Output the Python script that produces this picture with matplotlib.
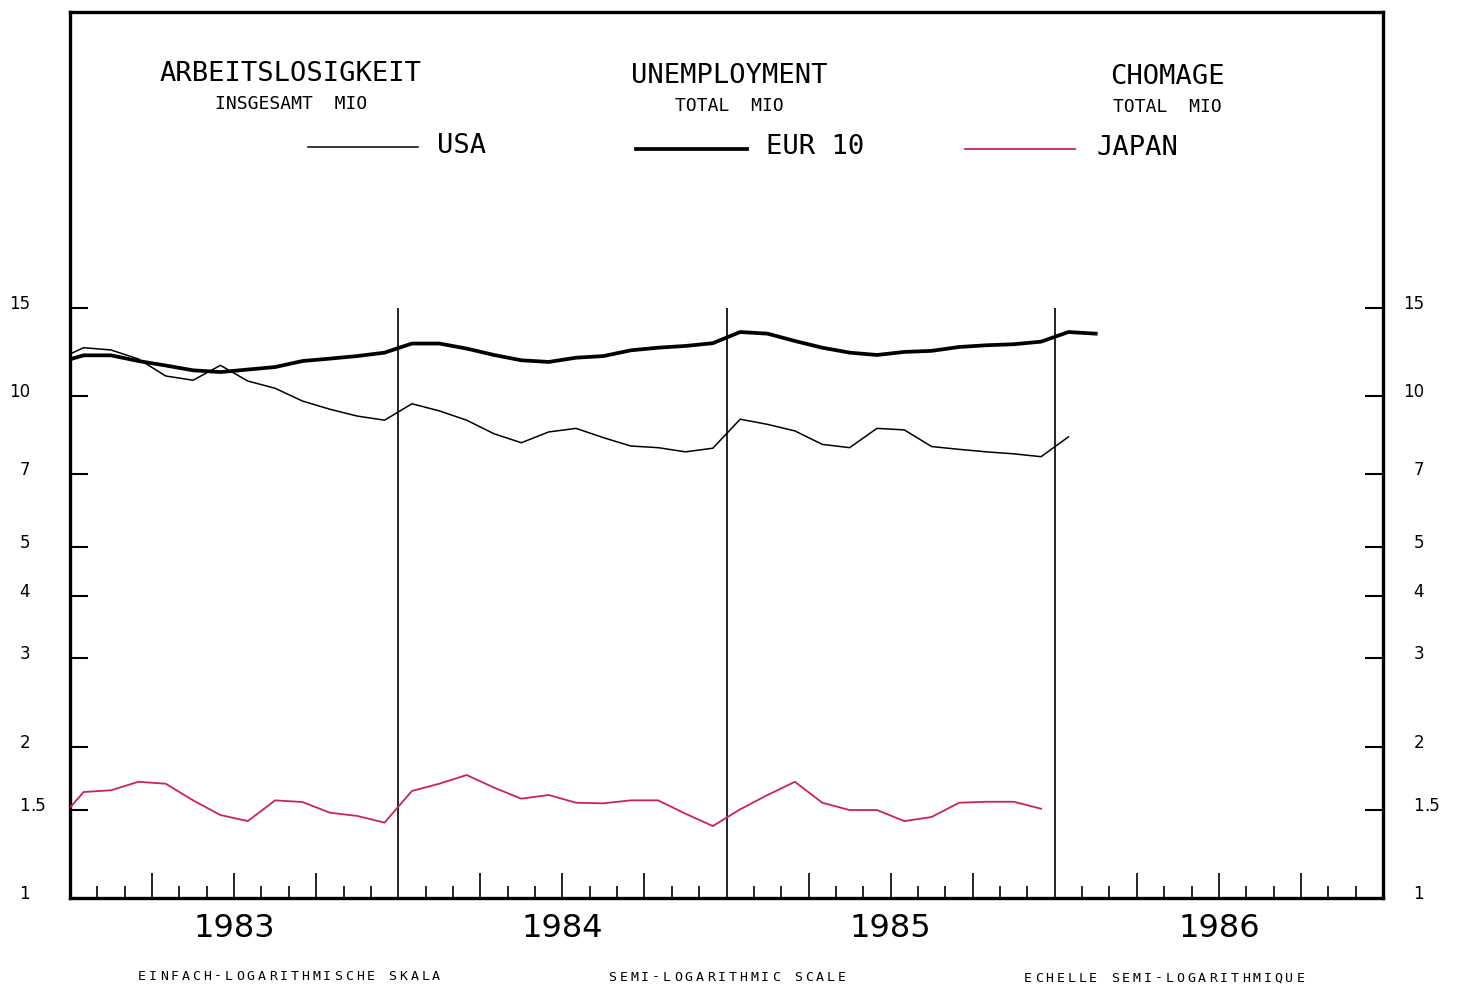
import numpy as np
import matplotlib
matplotlib.use("Agg")
import matplotlib.pyplot as plt
from matplotlib.lines import Line2D
from matplotlib import transforms

# ---------------- data (monthly, Dec 1982 onward, million persons) ----------------
usa = [11.78, 12.48, 12.35, 11.85, 10.96, 10.75, 11.51, 10.71, 10.36, 9.77, 9.41, 9.12, 8.95,
       9.65, 9.34, 8.95, 8.41, 8.07, 8.48, 8.62, 8.26, 7.95, 7.89, 7.74, 7.87,
       8.99, 8.78, 8.52, 8.01, 7.89, 8.62, 8.56, 7.93, 7.83, 7.74, 7.67, 7.57,
       8.29]
eur10 = [11.62, 12.05, 12.05, 11.74, 11.50, 11.25, 11.16, 11.29, 11.42, 11.74, 11.87, 12.01, 12.20,
         12.72, 12.72, 12.43, 12.07, 11.78, 11.69, 11.92, 12.01, 12.33, 12.48, 12.58, 12.74,
         13.41, 13.31, 12.87, 12.48, 12.20, 12.07, 12.24, 12.30, 12.52, 12.62, 12.68, 12.83,
         13.41, 13.31]
japan = [1.41, 1.626, 1.639, 1.704, 1.689, 1.565, 1.463, 1.423, 1.565, 1.553, 1.479, 1.457, 1.413,
         1.634, 1.689, 1.758, 1.659, 1.577, 1.604, 1.548, 1.544, 1.565, 1.565, 1.472, 1.391,
         1.502, 1.604, 1.704, 1.548, 1.497, 1.497, 1.423, 1.450, 1.548, 1.555, 1.555, 1.506]
years = ["1983", "1984", "1985", "1986"]
ytick_vals = [1, 1.5, 2, 3, 4, 5, 7, 10, 15]
ytick_labels = ["1", "1.5", "2", "3", "4", "5", "7", "10", "15"]
titles = [("ARBEITSLOSIGKEIT", "INSGESAMT  MIO"),
          ("UNEMPLOYMENT", "TOTAL  MIO"),
          ("CHOMAGE", "TOTAL  MIO")]
series_names = ["USA", "EUR 10", "JAPAN"]
captions = ["EINFACH-LOGARITHMISCHE SKALA", "SEMI-LOGARITHMIC SCALE", "ECHELLE SEMI-LOGARITHMIQUE"]

W, H = 1462, 988
fig = plt.figure(figsize=(W / 100, H / 100), dpi=100)
fig.patch.set_facecolor("white")

def fx(x):
    return x / W

def fy(y):
    return 1 - y / H

L, R, T, B = 70, 1383, 12, 898
ax = fig.add_axes([fx(L), fy(B), fx(R) - fx(L), fy(T) - fy(B)])
ax.set_yscale("log")
ax.set_xlim(0, 48)
ax.set_ylim(1, 58.2)

RED = "#cc2452"
def mx(n):
    return np.arange(n) - 0.5

ax.plot(mx(len(usa)), usa, color="black", lw=1.1, zorder=3)
ax.plot(mx(len(eur10)), eur10, color="black", lw=2.7, zorder=3, solid_joinstyle="round")
ax.plot(mx(len(japan)), japan, color=RED, lw=1.3, zorder=3)

# year separators
ax.vlines([12, 24, 36], 1, 15, color="black", lw=1.2, zorder=2)

for s in ax.spines.values():
    s.set_linewidth(2.4)

# x ticks: months, quarter ticks taller
quarter = [m for m in range(1, 48) if m % 3 == 0 and m % 12 != 0]
month = [m for m in range(1, 48) if m % 3 != 0]
ax.set_xticks(quarter)
ax.set_xticks(month, minor=True)
ax.tick_params(axis="x", which="major", direction="in", length=18, width=1.2,
               labelbottom=False, top=False)
ax.tick_params(axis="x", which="minor", direction="in", length=8.6, width=1.2, top=False)

# y ticks
ax.yaxis.set_major_locator(matplotlib.ticker.FixedLocator(ytick_vals[1:]))
ax.yaxis.set_minor_locator(matplotlib.ticker.NullLocator())
ax.tick_params(axis="y", which="major", direction="in", length=13, width=1.5,
               left=True, right=True, labelleft=False, labelright=False)

# custom y labels (integer part aligned)
base = ax.get_yaxis_transform()
trans = transforms.offset_copy(base, fig=fig, x=0, y=4, units="dots")
for v, lab in zip(ytick_vals, ytick_labels):
    ip, _, fp = lab.partition(".")
    for xr in (30, 1424):
        xa = (xr - L) / (R - L)
        ax.text(xa, v, ip, transform=trans, ha="right", va="center",
                fontsize=12, family="DejaVu Sans", clip_on=False)
        if fp:
            ax.text(xa, v, "." + fp, transform=trans, ha="left", va="center",
                    fontsize=12, family="DejaVu Sans", clip_on=False)

# year labels
ytrans = transforms.offset_copy(ax.get_xaxis_transform(), fig=fig,
                                x=0, y=-(928 - B), units="dots")
for i, yr in enumerate(years):
    ax.text(6 + 12 * i, 0, yr, transform=ytrans,
            ha="center", va="center", fontsize=23, family="DejaVu Sans")

# titles
MONO = "DejaVu Sans Mono"
tpos = [(291, 74, 104), (729, 76, 106), (1167, 77, 107)]
for (t1, t2), (cx, y1, y2) in zip(titles, tpos):
    fig.text(fx(cx), fy(y1), t1, ha="center", va="center", fontsize=19.5, family=MONO)
    fig.text(fx(cx), fy(y2), t2, ha="center", va="center", fontsize=13, family=MONO)

# legend
leg = [((308, 418, 147), (437, 146), "black", 1.1),
       ((636, 747, 149), (766, 147), "black", 2.7),
       ((965, 1075, 149), (1097, 148), RED, 1.3)]
for name, ((x0, x1, yl), (tx, ty), c, lw) in zip(series_names, leg):
    fig.add_artist(Line2D([fx(x0), fx(x1)], [fy(yl), fy(yl)], color=c, lw=lw,
                          transform=fig.transFigure))
    fig.text(fx(tx), fy(ty), name, ha="left", va="center", fontsize=19.5, family=MONO)

# captions with wide letter spacing
cap_pos = [(289, 976), (727, 977), (1164, 978)]
pitch = 10.9
for txt, (cx, cy) in zip(captions, cap_pos):
    n = len(txt)
    x0 = cx - (n - 1) / 2 * pitch
    for i, ch in enumerate(txt):
        if ch != " ":
            fig.text(fx(x0 + i * pitch), fy(cy), ch, ha="center", va="center",
                     fontsize=9.5, family=MONO)

fig.savefig("out.png", dpi=100, facecolor="white")
